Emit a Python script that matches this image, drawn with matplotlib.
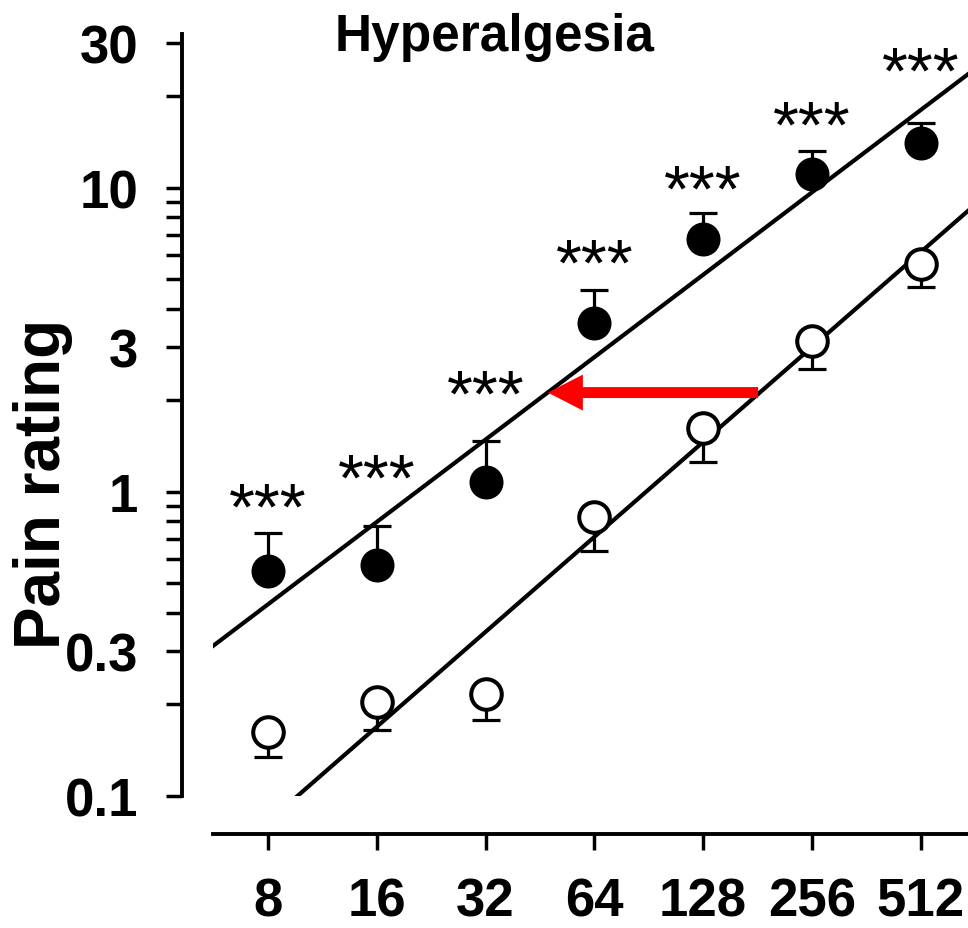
import numpy as np
import matplotlib
matplotlib.use("Agg")
import matplotlib.pyplot as plt

plt.rcParams['font.family'] = ['Liberation Sans', 'DejaVu Sans']
plt.rcParams['font.weight'] = 'bold'

# doses (x) and pain ratings
dose = [8, 16, 32, 64, 128, 256, 512]
dose_labels = ['8', '16', '32', '64', '128', '256', '512']

hyper_mean = [0.550, 0.575, 1.078, 3.58, 6.76, 11.13, 14.05]
hyper_sem = [0.181, 0.198, 0.388, 1.03, 1.49, 2.05, 2.28]

ctrl_mean = [0.1626, 0.203, 0.216, 0.827, 1.618, 3.13, 5.62]
ctrl_sem = [0.028, 0.038, 0.038, 0.19, 0.365, 0.60, 0.90]

# regression lines (end points)
fit_x = [4, 1024]
fit_hyper = [0.2286, 33.6]
fit_ctrl = [0.0401, 12.6]

# height of the significance stars
star_y = [0.938, 1.169, 2.206, 5.94, 10.40, 17.0, 25.4]

# red arrow: shift of the control line onto the hyperalgesia line
arrow_y = 2.12
arrow_from = 181.6
arrow_to = 47.6

ytick_vals = [0.1, 0.3, 1, 3, 10, 30]
ytick_labels = ['0.1', '0.3', '1', '3', '10', '30']
yminor = [0.2, 0.4, 0.5, 0.6, 0.7, 0.8, 0.9, 2, 4, 5, 6, 7, 8, 9, 20]

fig = plt.figure(figsize=(9.68, 9.29), dpi=100)
ax = fig.add_axes([0.2200, 0.14209, 0.8436, 0.82023])

ax.set_xscale('log', base=2)
ax.set_yscale('log')

ax.plot(fit_x, fit_hyper, color='black', lw=3.0, zorder=2)
ax.plot(fit_x, fit_ctrl, color='black', lw=3.0, zorder=2)

# one-sided error bars: up for hyperalgesia, down for control
z = np.zeros(len(dose))
ax.errorbar(dose, hyper_mean, yerr=[z, hyper_sem], fmt='none', ecolor='black',
            elinewidth=2.3, capsize=10, capthick=2.3, zorder=3)
ax.errorbar(dose, ctrl_mean, yerr=[ctrl_sem, z], fmt='none', ecolor='black',
            elinewidth=2.3, capsize=10, capthick=2.3, zorder=3)

ax.plot(dose, hyper_mean, 'o', ms=24.5, mfc='black', mec='black', mew=0, zorder=4)
ax.plot(dose, ctrl_mean, 'o', ms=22, mfc='white', mec='black', mew=2.9, zorder=4)

for xi, yi in zip(dose, star_y):
    ax.annotate('***', (xi, yi), xytext=(0, -20.5), textcoords='offset points',
                ha='center', va='baseline', fontsize=48, fontweight='normal',
                annotation_clip=False)

ax.annotate('', xy=(arrow_to, arrow_y), xytext=(arrow_from, arrow_y),
            arrowprops=dict(arrowstyle='simple,head_length=2.52,head_width=2.59,tail_width=0.79',
                            mutation_scale=10, color='red', lw=0,
                            shrinkA=0, shrinkB=0), zorder=5)

ax.set_xlim(5.636, 1024)
ax.set_ylim(0.1, 32)

ax.set_xticks(dose)
ax.set_xticklabels(dose_labels)
ax.xaxis.set_minor_locator(matplotlib.ticker.NullLocator())
ax.set_yticks(ytick_vals)
ax.set_yticklabels(ytick_labels)
ax.set_yticks(yminor, minor=True)
ax.yaxis.set_minor_formatter(matplotlib.ticker.NullFormatter())

ax.tick_params(axis='both', which='both', direction='out', length=11.5,
               width=2.5, color='black', labelsize=38)
ax.tick_params(axis='x', pad=19)
ax.tick_params(axis='y', pad=20)

ax.spines['top'].set_visible(False)
ax.spines['right'].set_visible(False)
ax.spines['left'].set_linewidth(2.8)
ax.spines['bottom'].set_linewidth(2.8)
ax.spines['left'].set_position(('outward', 22.3))
ax.spines['bottom'].set_position(('outward', 27.4))

fig.text(495 / 968, 1 - 37 / 929, 'Hyperalgesia', ha='center', va='center',
         fontsize=37, fontweight='bold')
fig.text(43 / 968, 1 - 484 / 929, 'Pain rating', ha='center', va='center',
         rotation=90, fontsize=46, fontweight='bold')

fig.savefig('out.png', dpi=100)
